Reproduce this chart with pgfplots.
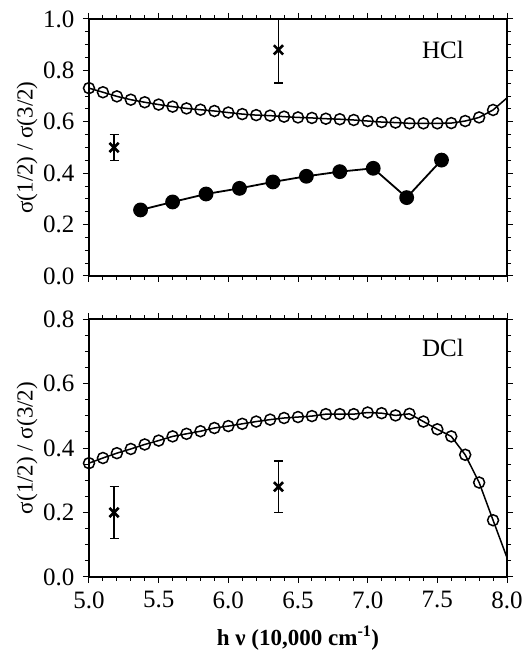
\documentclass[border=0pt]{standalone}
\usepackage{fontspec}
\setmainfont{Liberation Serif}
\usepackage{pgfplots}
\pgfplotsset{compat=1.18}
\begin{document}
\fontsize{25}{30}\selectfont
\begin{tikzpicture}
\path[use as bounding box] (0pt,0pt) rectangle (525pt,651pt);
\pgfplotsset{
  myaxis/.style={
    scale only axis, width=418pt, xmin=5, xmax=8,
    clip=false,
    tick align=outside, major tick length=6pt, minor tick length=4pt,
    xtick={5,5.5,6,6.5,7,7.5,8}, minor x tick num=4,
    minor y tick num=3,
    axis line style={line width=1.8pt},
    every tick/.style={black, line width=1pt},
    tick label style={font=\fontsize{25}{30}\selectfont},
    /pgf/number format/assume math mode=true,
    xticklabel style={/pgf/number format/fixed, /pgf/number format/fixed zerofill, /pgf/number format/precision=1},
    yticklabel style={/pgf/number format/fixed, /pgf/number format/fixed zerofill, /pgf/number format/precision=1},
    ylabel style={at={(axis description cs:-0.148,0.5)}, anchor=center, font=\fontsize{23}{27}\selectfont},
  },
  opencirc/.style={black, line width=1.5pt, mark=o, mark size=5.5pt, mark options={line width=1.5pt}},
  crosses/.style={black, only marks, mark=x, mark size=6.5pt, line width=2.6pt,
    error bars/.cd, y dir=both, y explicit,
    error bar style={line width=1.5pt},
    error mark options={rotate=90, mark size=4.5pt, line width=1.5pt}},
}
% ---------------- HCl ----------------
\begin{axis}[myaxis, at={(89pt,375pt)}, anchor=south west, height=257pt,
  ymin=0, ymax=1.0, ytick={0,0.2,0.4,0.6,0.8,1.0}, xticklabels={},
  ylabel={σ(1/2) / σ(3/2)}]
\addplot[opencirc, mark indices={1,...,30}] coordinates {
(5.0,0.731) (5.1,0.715) (5.2,0.699) (5.3,0.686) (5.4,0.676) (5.5,0.667)
(5.6,0.659) (5.7,0.652) (5.8,0.647) (5.9,0.642) (6.0,0.636) (6.1,0.630)
(6.2,0.626) (6.3,0.624) (6.4,0.620) (6.5,0.617) (6.6,0.615) (6.7,0.612)
(6.8,0.610) (6.9,0.607) (7.0,0.603) (7.1,0.599) (7.2,0.597) (7.3,0.594)
(7.4,0.594) (7.5,0.594) (7.6,0.595) (7.7,0.603) (7.8,0.617) (7.9,0.646)
(8.0,0.693)};
\addplot[black, line width=1.8pt, mark=*, mark size=6.5pt] coordinates {
(5.37,0.257) (5.60,0.288) (5.84,0.319) (6.08,0.341) (6.32,0.366)
(6.56,0.388) (6.80,0.406) (7.04,0.419) (7.28,0.305) (7.53,0.451)};
\addplot[crosses] coordinates {
(5.18,0.50) +- (0,0.05)
(6.36,0.88) += (0,0.12) -= (0,0.13)};
\node at (axis cs:7.54,0.88) {HCl};
\end{axis}
% ---------------- DCl ----------------
\begin{axis}[myaxis, at={(89pt,74pt)}, anchor=south west, height=258pt,
  ymin=0, ymax=0.8, ytick={0,0.2,0.4,0.6,0.8},
  ylabel={σ(1/2) / σ(3/2)},
  xlabel={\textbf{h ν (10,000 cm\textsuperscript{-1})}},
  xlabel style={at={(axis description cs:0.5,-0.236)}, anchor=center, font=\fontsize{23}{27}\selectfont}]
\addplot[opencirc, mark indices={1,...,30}] coordinates {
(5.0,0.353) (5.1,0.369) (5.2,0.384) (5.3,0.397) (5.4,0.411) (5.5,0.423)
(5.6,0.436) (5.7,0.444) (5.8,0.452) (5.9,0.462) (6.0,0.468) (6.1,0.475)
(6.2,0.482) (6.3,0.488) (6.4,0.493) (6.5,0.496) (6.6,0.499) (6.7,0.505)
(6.8,0.505) (6.9,0.505) (7.0,0.510) (7.1,0.508) (7.2,0.501) (7.3,0.506)
(7.4,0.482) (7.5,0.458) (7.6,0.436) (7.7,0.379) (7.8,0.293) (7.9,0.176)
(8.0,0.060)};
\addplot[crosses] coordinates {
(5.18,0.20) +- (0,0.08)
(6.36,0.28) +- (0,0.08)};
\node at (axis cs:7.54,0.71) {DCl};
\end{axis}
\end{tikzpicture}
\end{document}
